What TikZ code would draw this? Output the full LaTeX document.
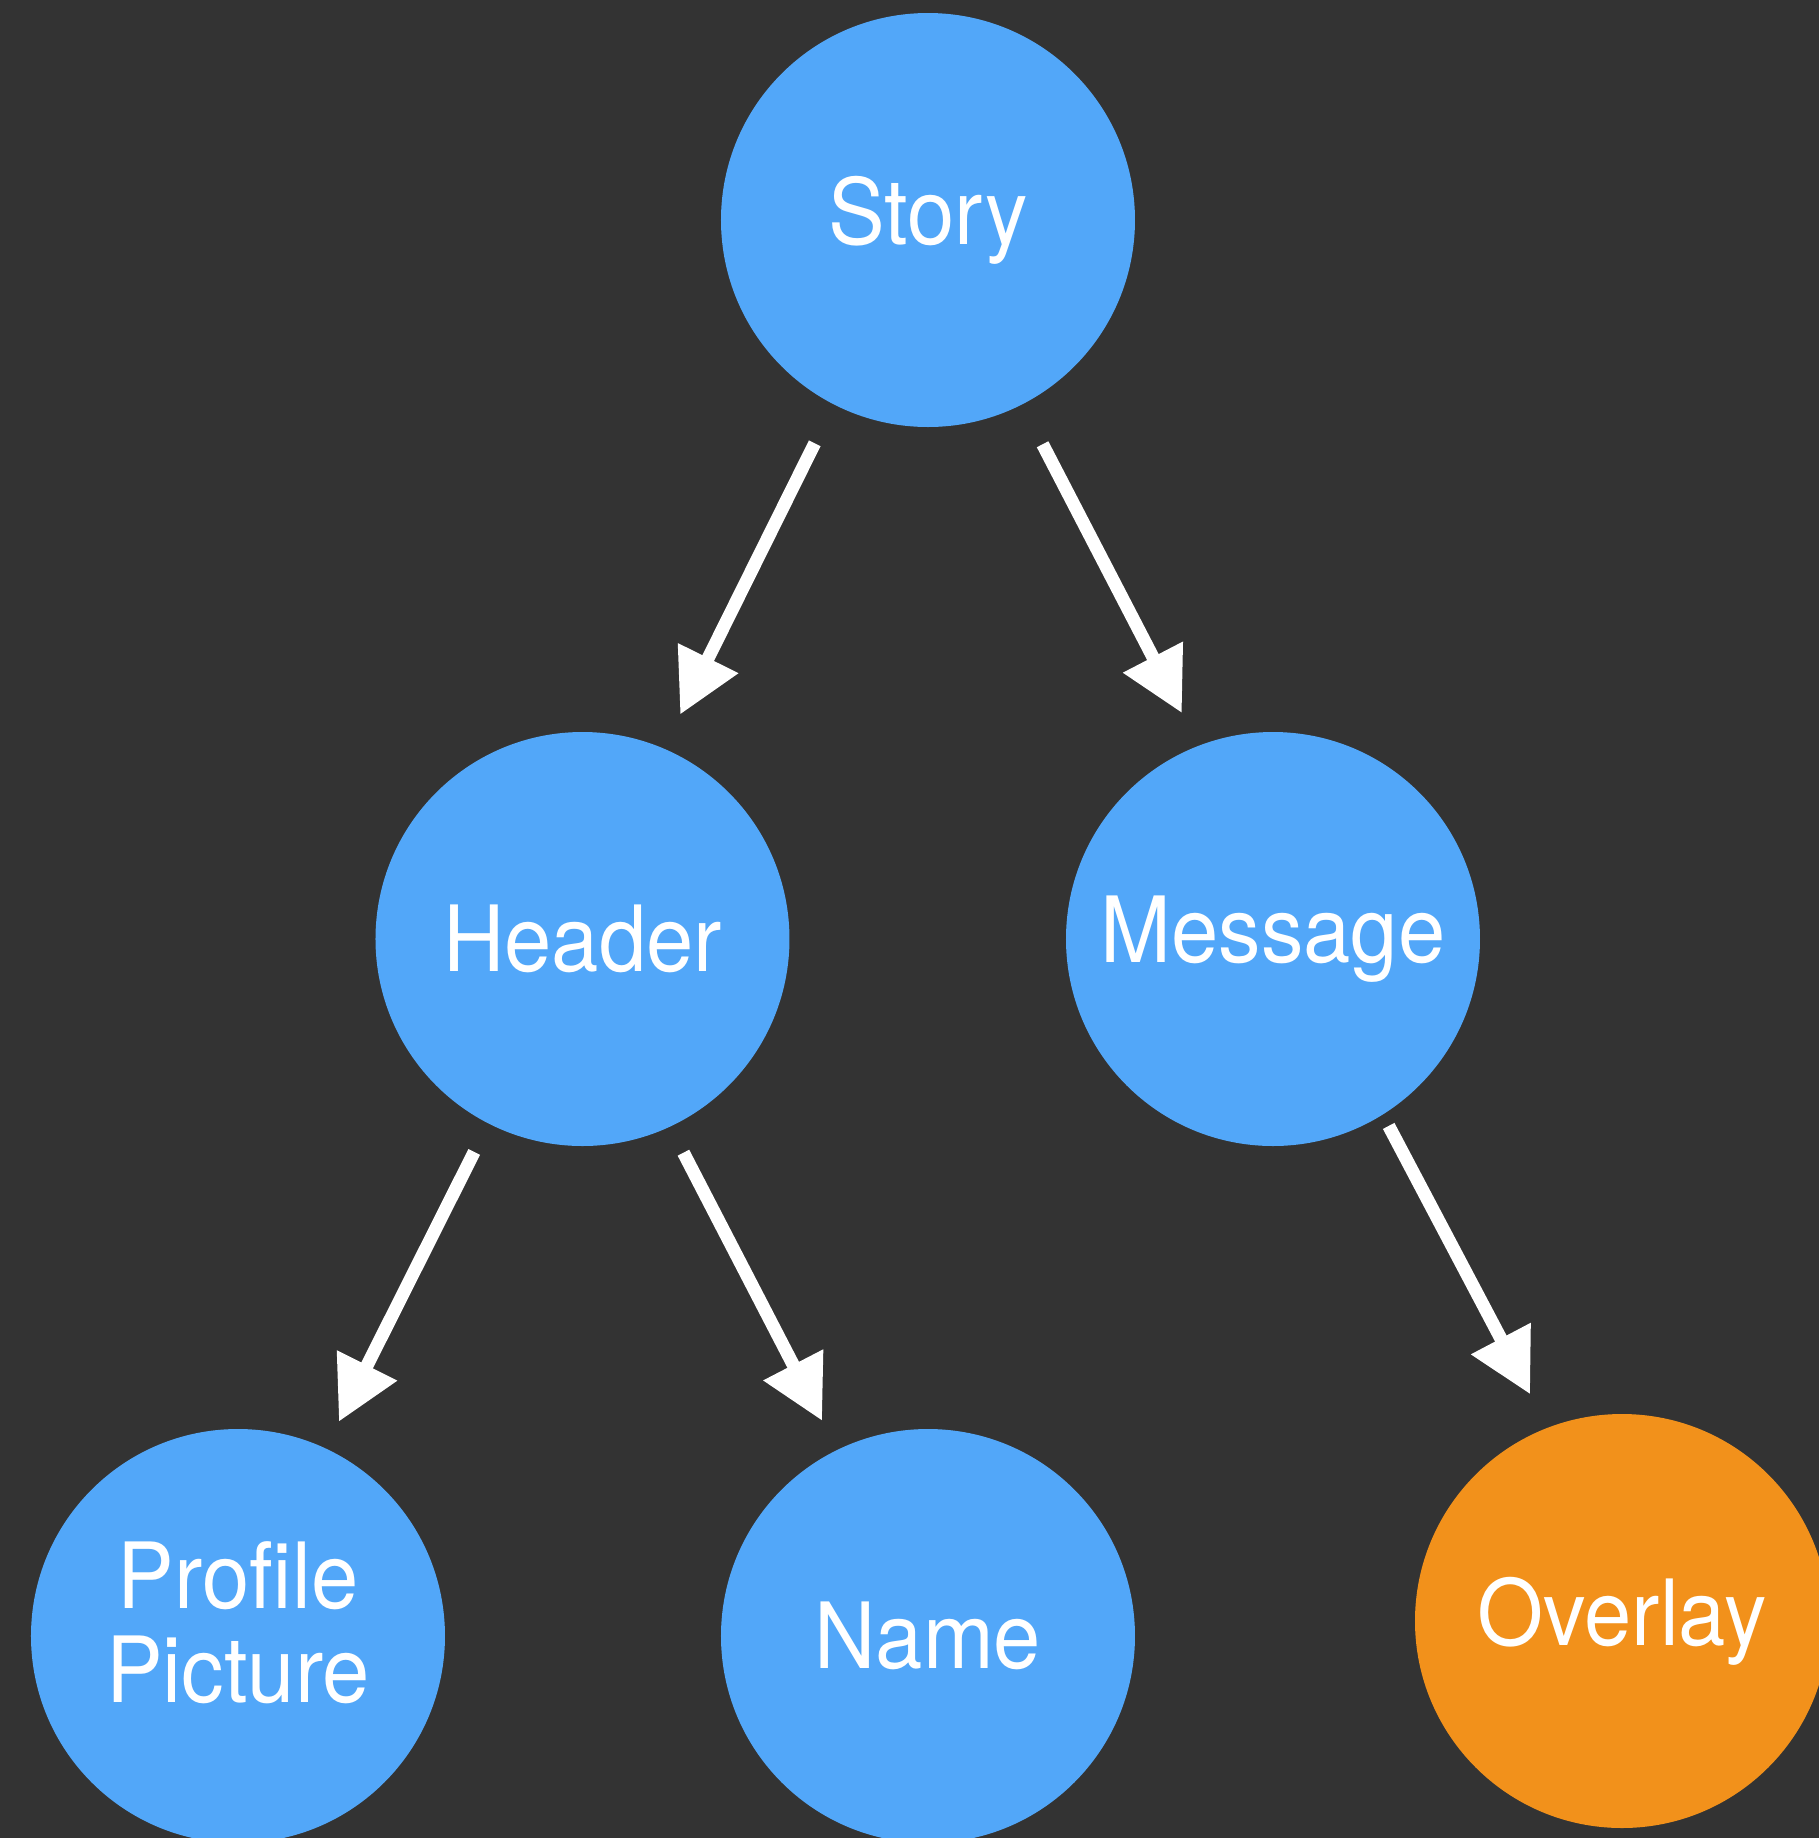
\documentclass[tikz,border=0pt]{standalone}
\usepackage{fontspec}
\setmainfont[FakeStretch=0.93]{TeX Gyre Heros}
\usepackage{tikz}
\usetikzlibrary{positioning,arrows.meta}
\definecolor{bgdark}{HTML}{333333}
\definecolor{storyblue}{HTML}{52A7F9}
\definecolor{overlayorange}{HTML}{F2911B}

\begin{document}
\begin{tikzpicture}[
    on grid,
    part/.style={circle, fill=storyblue, minimum size=8.28cm, inner sep=0pt,
                 text=white, align=center, font=\fontsize{52}{52}\selectfont},
    extra/.style={part, fill=overlayorange},
    arrow/.style={-{Triangle[length=1.26cm, width=1.28cm]}, white,
                  line width=0.26cm},
]

% background
\fill[bgdark] (-18.56,4.40) rectangle (17.82,-32.36);
\useasboundingbox (-18.56,4.40) rectangle (17.82,-32.36);

% top
\node[part] (story) at (0,0) {Story};

% middle row
\node[part, below left=14.38cm and 6.91cm of story] (header) {Header};
\node[part, below right=14.38cm and 6.90cm of story] (message) {Message};

% bottom row
\node[part, below left=13.94cm and 6.89cm of header] (profile)
    {\begin{tabular}{@{}c@{}}Profile\\Picture\end{tabular}};
\node[part, below right=13.94cm and 6.91cm of header] (name) {Name};
\node[extra, below right=13.64cm and 6.98cm of message] (overlay) {Overlay};

% arrows
\draw[arrow, shorten <=0.86cm, shorten >=0.75cm] (story.243.4) -- (header.67.6);
\draw[arrow, shorten <=0.89cm, shorten >=0.73cm] (story.297.2) -- (message.111.9);
\draw[arrow, shorten <=0.63cm, shorten >=0.59cm] (header.243.5) -- (profile.65.3);
\draw[arrow, shorten <=0.58cm, shorten >=0.65cm] (header.295.3) -- (name.116.2);
\draw[arrow, shorten <=0.25cm, shorten >=0.75cm] (message.302.5) -- (overlay.111.9);

\end{tikzpicture}
\end{document}
